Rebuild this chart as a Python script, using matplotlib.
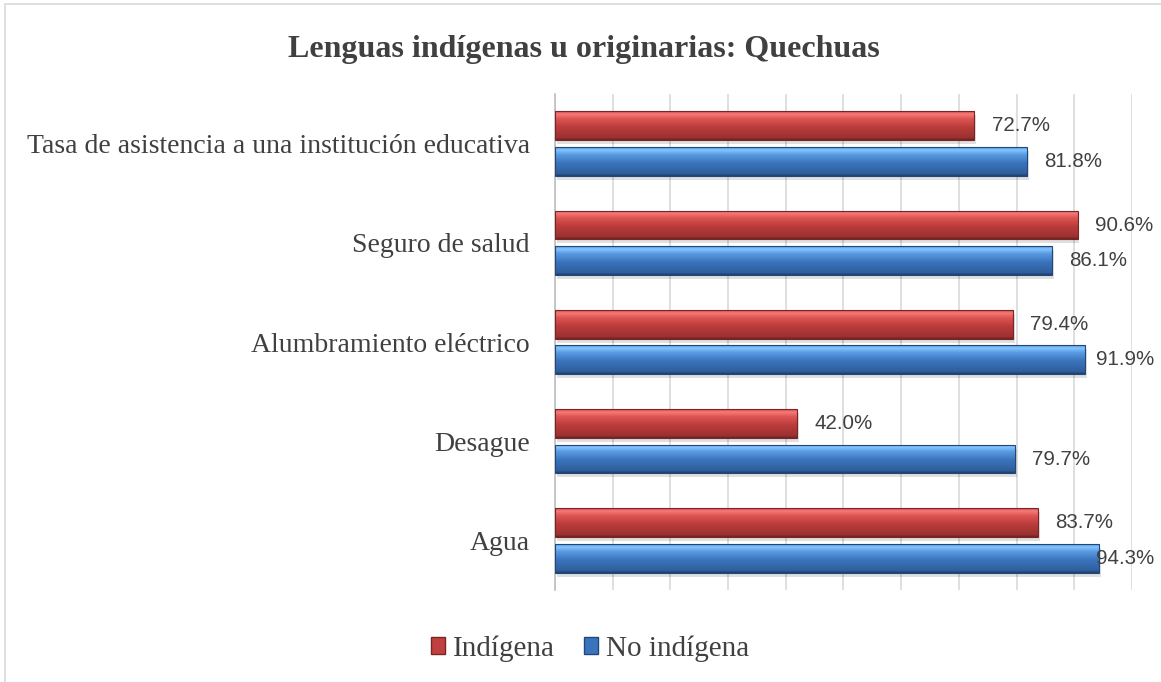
import matplotlib.pyplot as plt
import numpy as np
from matplotlib.patches import Rectangle
from matplotlib.colors import LinearSegmentedColormap

# datos del gráfico (porcentajes)
categorias = ['Agua', 'Desague', 'Alumbramiento eléctrico', 'Seguro de salud',
              'Tasa de asistencia a una institución educativa']
indigena = [83.7, 42.0, 79.4, 90.6, 72.7]
no_indigena = [94.3, 79.7, 91.9, 86.1, 81.8]
series = ['Indígena', 'No indígena']

gris = '#404040'
rojo_cm = LinearSegmentedColormap.from_list(
    'rojo', [(0, '#6e2222'), (0.08, '#9c3232'), (0.45, '#bb3c3b'),
             (0.75, '#de5654'), (0.9, '#f57b79'), (1, '#d85050')])
azul_cm = LinearSegmentedColormap.from_list(
    'azul', [(0, '#1f3f6e'), (0.08, '#2f5f9c'), (0.45, '#3a74bc'),
             (0.75, '#5a9be3'), (0.9, '#84c5ff'), (1, '#5a9ae0')])

fig = plt.figure(figsize=(11.61, 6.82), dpi=100)
fig.patches.append(Rectangle((0.0045, -0.01), 1.1, 1.004, transform=fig.transFigure,
                             fill=False, edgecolor='#d9d9d9', linewidth=1.2))
ax = fig.add_axes([0.478, 0.135, 0.497, 0.727])

y = np.arange(len(categorias))
alto = 0.29
grad = np.linspace(0, 1, 64).reshape(-1, 1)


def barras(valores, desplaz, cmap, borde):
    bars = ax.barh(y + desplaz, [v / 100 for v in valores], height=alto,
                   color='none', edgecolor='none', zorder=3)
    for b in bars:
        x0, y0, w, h = b.get_x(), b.get_y(), b.get_width(), b.get_height()
        # sombra
        ax.add_patch(Rectangle((x0 + 0.003, y0 - 0.04), w, h, color='#000000',
                               alpha=0.12, lw=0, zorder=2))
        im = ax.imshow(grad, cmap=cmap, aspect='auto', origin='lower',
                       extent=(x0, x0 + w, y0, y0 + h), zorder=3)
        im.set_clip_path(b)
        ax.add_patch(Rectangle((x0, y0), w, h, fill=False, edgecolor=borde,
                               lw=0.8, zorder=4))
    for v, yy in zip(valores, y + desplaz):
        ax.text(min(v / 100 + 0.03, 0.937), yy, f'{v:.1f}%', va='center', ha='left',
                fontsize=14.8, color=gris, family='Liberation Sans', zorder=5)


barras(indigena, 0.18, rojo_cm, '#7a2525')
barras(no_indigena, -0.18, azul_cm, '#24477a')

ax.set_xlim(0, 1)
ax.set_ylim(-0.5, len(categorias) - 0.5)
ax.set_xticks(np.linspace(0, 1, 11))
ax.set_xticklabels([])
ax.tick_params(axis='x', length=0)
ax.tick_params(axis='y', length=0, pad=18)
ax.set_yticks(y)
ax.set_yticklabels(categorias, fontsize=20, color=gris, family='Liberation Serif')
ax.grid(axis='x', color='#d9d9d9', linewidth=1.2, zorder=0)
ax.set_axisbelow(True)
for s in ['top', 'right', 'bottom']:
    ax.spines[s].set_visible(False)
ax.spines['left'].set_color('#bfbfbf')
ax.spines['left'].set_linewidth(1.2)

fig.text(0.503, 0.927, 'Lenguas indígenas u originarias: Quechuas', ha='center', va='center',
         fontsize=23, fontweight='bold', color=gris, family='Liberation Serif')

handles = [Rectangle((0, 0), 1, 1, facecolor='#c0403f', edgecolor='#7a2525'),
           Rectangle((0, 0), 1, 1, facecolor='#3a74bc', edgecolor='#24477a')]
leg = fig.legend(handles, series, loc='center', bbox_to_anchor=(0.508, 0.049), ncol=2,
                 frameon=False, handlelength=0.5, handleheight=0.5, handletextpad=0.25,
                 columnspacing=1.0, prop={'family': 'Liberation Serif', 'size': 21})
for t in leg.get_texts():
    t.set_color(gris)

fig.savefig('out.png', dpi=100)
